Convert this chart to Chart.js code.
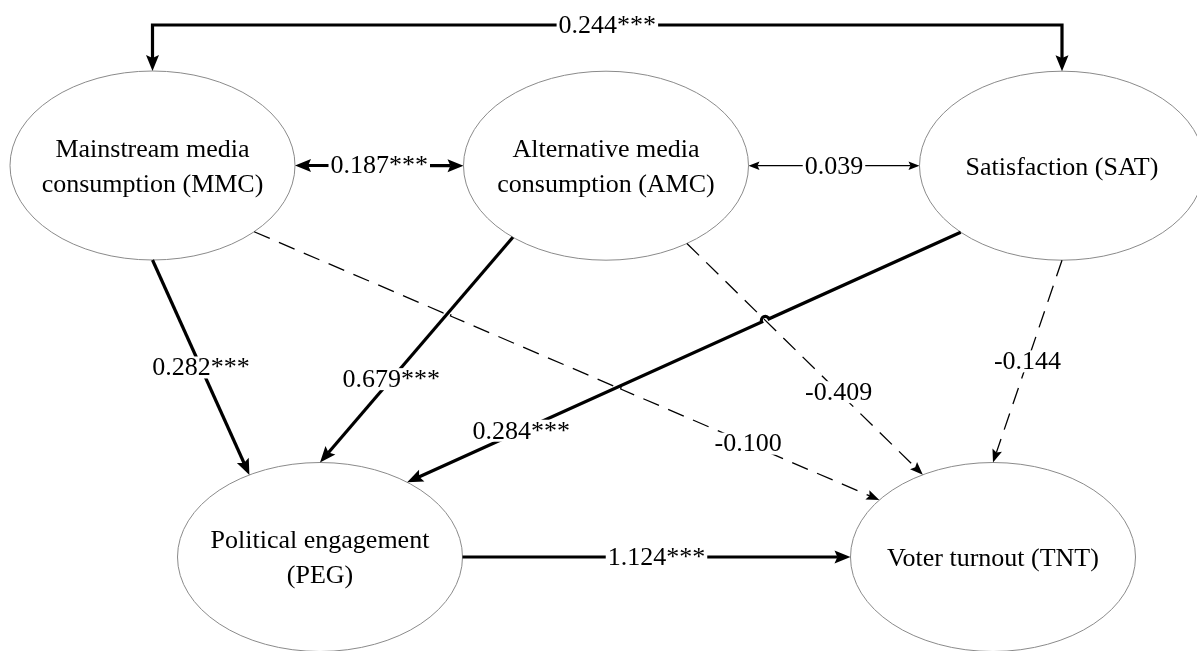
<!DOCTYPE html>
<html><head><meta charset="utf-8">
<script src="https://cdn.jsdelivr.net/npm/chart.js@4.4.1/dist/chart.umd.min.js"></script>
<style>html,body{margin:0;padding:0;background:#fff}#wrap{width:1197px;height:651px;position:relative}</style>
</head><body><div id="wrap"><canvas id="c"></canvas></div>
<script>
// ---------- data ----------
const nodeLines = [
  ['Mainstream media', 'consumption (MMC)'],
  ['Alternative media', 'consumption (AMC)'],
  ['Satisfaction (SAT)'],
  ['Political engagement', '(PEG)'],
  ['Voter turnout (TNT)']
];
const edgeFrom = [0, 0, 1, 0, 1, 2, 0, 1, 2, 3];
const edgeTo   = [2, 1, 2, 3, 3, 3, 4, 4, 4, 4];
const edgeKind = ['cov', 'cov', 'cov', 'path', 'path', 'path', 'path', 'path', 'path', 'path'];
const edgeCoef = [0.244, 0.187, 0.039, 0.282, 0.679, 0.284, -0.100, -0.409, -0.144, 1.124];
const edgeSig  = ['***', '***', '', '***', '***', '***', '', '', '', '***'];

// ---------- layout (diagram coordinates, y downward) ----------
const layout = {
  nodeX: [152.5, 606, 1062, 320, 993],
  nodeY: [165.5, 165.7, 165.7, 557, 557],
  rx: 142.5, ry: 94.5,
  anchors: [[270, 270], [0, 180], [0, 180], [90, 240.3], [130.8, 270], [135.3, 307.7],
            [44.5, 217.1], [55.4, 240.5], [90, 270], [0, 180]],
  elbowY: [25, null, null, null, null, null, null, null, null, null],
  labelT: [0.5, 0.5, 0.5, 0.5, 0.63, 0.794, 0.79, 0.643, 0.5, 0.5],
  hops: [{edge: 5, over: 7}, {edge: 6, over: 5}, {edge: 6, over: 4}]
};
const FONT = '26px "Liberation Serif", "Times New Roman", serif';

function anchorPt(n, deg) {
  const a = deg * Math.PI / 180;
  return {x: layout.nodeX[n] + layout.rx * Math.cos(a), y: layout.nodeY[n] + layout.ry * Math.sin(a)};
}
function edgePts(i) {
  const A = anchorPt(edgeFrom[i], layout.anchors[i][0]);
  const B = anchorPt(edgeTo[i], layout.anchors[i][1]);
  if (layout.elbowY[i] != null) {
    const e = layout.elbowY[i];
    return [A, {x: A.x, y: e}, {x: B.x, y: e}, B];
  }
  return [A, B];
}
function segInter(p1, p2, p3, p4) {
  const d = (p2.x - p1.x) * (p4.y - p3.y) - (p2.y - p1.y) * (p4.x - p3.x);
  if (Math.abs(d) < 1e-9) return null;
  const t = ((p3.x - p1.x) * (p4.y - p3.y) - (p3.y - p1.y) * (p4.x - p3.x)) / d;
  const u = ((p3.x - p1.x) * (p2.y - p1.y) - (p3.y - p1.y) * (p2.x - p1.x)) / d;
  if (t < 0 || t > 1 || u < 0 || u > 1) return null;
  return {x: p1.x + t * (p2.x - p1.x), y: p1.y + t * (p2.y - p1.y), t};
}

const diagramPlugin = {
  id: 'pathDiagram',
  afterDatasetsDraw(chart) {
    const ctx = chart.ctx;
    const xs = chart.scales.x, ys = chart.scales.y;
    const P = p => ({x: xs.getPixelForValue(p.x), y: ys.getPixelForValue(p.y)});
    const rxPx = Math.abs(xs.getPixelForValue(layout.rx) - xs.getPixelForValue(0));
    const ryPx = Math.abs(ys.getPixelForValue(layout.ry) - ys.getPixelForValue(0));
    ctx.save();
    // ellipses
    for (let n = 0; n < nodeLines.length; n++) {
      const c = P({x: layout.nodeX[n], y: layout.nodeY[n]});
      ctx.beginPath();
      ctx.ellipse(c.x, c.y, rxPx, ryPx, 0, 0, Math.PI * 2);
      ctx.fillStyle = '#fff'; ctx.fill();
      ctx.lineWidth = 1; ctx.strokeStyle = '#8a8a8a'; ctx.setLineDash([]);
      ctx.stroke();
    }
    // edges
    const styleOf = i => {
      if (edgeSig[i]) return {w: 3.2, dash: [], hl: 16, hw: 6.5};
      if (edgeKind[i] === 'cov') return {w: 1.2, dash: [], hl: 11, hw: 4.2};
      return {w: 1.3, dash: [17, 10], hl: 13, hw: 5};
    };
    const pix = edgeFrom.map((_, i) => edgePts(i).map(P));
    function head(tip, from, st) {
      const dx = tip.x - from.x, dy = tip.y - from.y, L = Math.hypot(dx, dy);
      const ux = dx / L, uy = dy / L;
      ctx.beginPath();
      ctx.moveTo(tip.x, tip.y);
      ctx.lineTo(tip.x - ux * st.hl - uy * st.hw, tip.y - uy * st.hl + ux * st.hw);
      ctx.lineTo(tip.x - ux * st.hl * 0.82, tip.y - uy * st.hl * 0.82);
      ctx.lineTo(tip.x - ux * st.hl + uy * st.hw, tip.y - uy * st.hl - ux * st.hw);
      ctx.closePath();
      ctx.fillStyle = '#000'; ctx.fill();
    }
    for (let i = 0; i < pix.length; i++) {
      const st = styleOf(i);
      const pts = pix[i].map(p => ({x: p.x, y: p.y}));
      const n = pts.length;
      // shorten ends for heads
      const shorten = (a, b, d) => {
        const L = Math.hypot(b.x - a.x, b.y - a.y);
        return {x: a.x + (b.x - a.x) * d / L, y: a.y + (b.y - a.y) * d / L};
      };
      const both = edgeKind[i] === 'cov';
      const sPts = pts.slice();
      sPts[n - 1] = shorten(pts[n - 1], pts[n - 2], st.hl * 0.8);
      if (both) sPts[0] = shorten(pts[0], pts[1], st.hl * 0.8);
      ctx.lineWidth = st.w; ctx.strokeStyle = '#000'; ctx.setLineDash(st.dash);
      ctx.lineCap = 'butt'; ctx.lineJoin = 'miter';
      ctx.beginPath();
      ctx.moveTo(sPts[0].x, sPts[0].y);
      const hopsHere = layout.hops.filter(h => h.edge === i);
      if (n === 2 && hopsHere.length) {
        const a = sPts[0], b = sPts[1];
        const L = Math.hypot(b.x - a.x, b.y - a.y);
        const ux = (b.x - a.x) / L, uy = (b.y - a.y) / L;
        const ang = Math.atan2(uy, ux);
        const ints = hopsHere.map(h => segInter(a, b, pix[h.over][0], pix[h.over][1])).filter(Boolean).sort((p, q) => p.t - q.t);
        const r = 4;
        for (const I of ints) {
          ctx.lineTo(I.x - ux * r, I.y - uy * r);
          if (Math.cos(ang) >= 0) ctx.arc(I.x, I.y, r, ang + Math.PI, ang + 2 * Math.PI, false);
          else ctx.arc(I.x, I.y, r, ang + Math.PI, ang, true);
        }
        ctx.lineTo(b.x, b.y);
      } else {
        for (let k = 1; k < n; k++) ctx.lineTo(sPts[k].x, sPts[k].y);
      }
      ctx.stroke();
      ctx.setLineDash([]);
      head(pts[n - 1], pts[n - 2], st);
      if (both) head(pts[0], pts[1], st);
    }
    // edge labels
    ctx.font = FONT; ctx.textAlign = 'center'; ctx.textBaseline = 'middle';
    for (let i = 0; i < pix.length; i++) {
      const pts = pix[i];
      let total = 0; const segs = [];
      for (let k = 1; k < pts.length; k++) { const L = Math.hypot(pts[k].x - pts[k-1].x, pts[k].y - pts[k-1].y); segs.push(L); total += L; }
      let target = total * layout.labelT[i], k = 0;
      while (k < segs.length - 1 && target > segs[k]) { target -= segs[k]; k++; }
      const f = target / segs[k];
      const x = pts[k].x + (pts[k+1].x - pts[k].x) * f, y = pts[k].y + (pts[k+1].y - pts[k].y) * f;
      const txt = edgeCoef[i].toFixed(3) + edgeSig[i];
      const w = ctx.measureText(txt).width;
      ctx.fillStyle = '#fff';
      ctx.fillRect(x - w / 2 - 2, y - 11, w + 4, 22);
      ctx.fillStyle = '#000';
      ctx.fillText(txt, x, y + 1);
    }
    // node texts
    for (let n = 0; n < nodeLines.length; n++) {
      const c = P({x: layout.nodeX[n], y: layout.nodeY[n]});
      const lines = nodeLines[n], lh = 35;
      lines.forEach((t, j) => {
        ctx.fillText(t, c.x, c.y + 2 + (j - (lines.length - 1) / 2) * lh);
      });
    }
    ctx.restore();
  }
};

new Chart(document.getElementById('c'), {
  type: 'scatter',
  data: {
    datasets: [{
      data: layout.nodeX.map((x, i) => ({x, y: layout.nodeY[i]})),
      pointRadius: 0, pointHoverRadius: 0
    }]
  },
  options: {
    responsive: true, maintainAspectRatio: false, animation: false,
    events: [],
    layout: {padding: 0},
    plugins: {legend: {display: false}, tooltip: {enabled: false}},
    scales: {
      x: {type: 'linear', min: 0, max: 1197, display: false},
      y: {type: 'linear', min: 0, max: 651, reverse: true, display: false}
    }
  },
  plugins: [diagramPlugin]
});
</script></body></html>
